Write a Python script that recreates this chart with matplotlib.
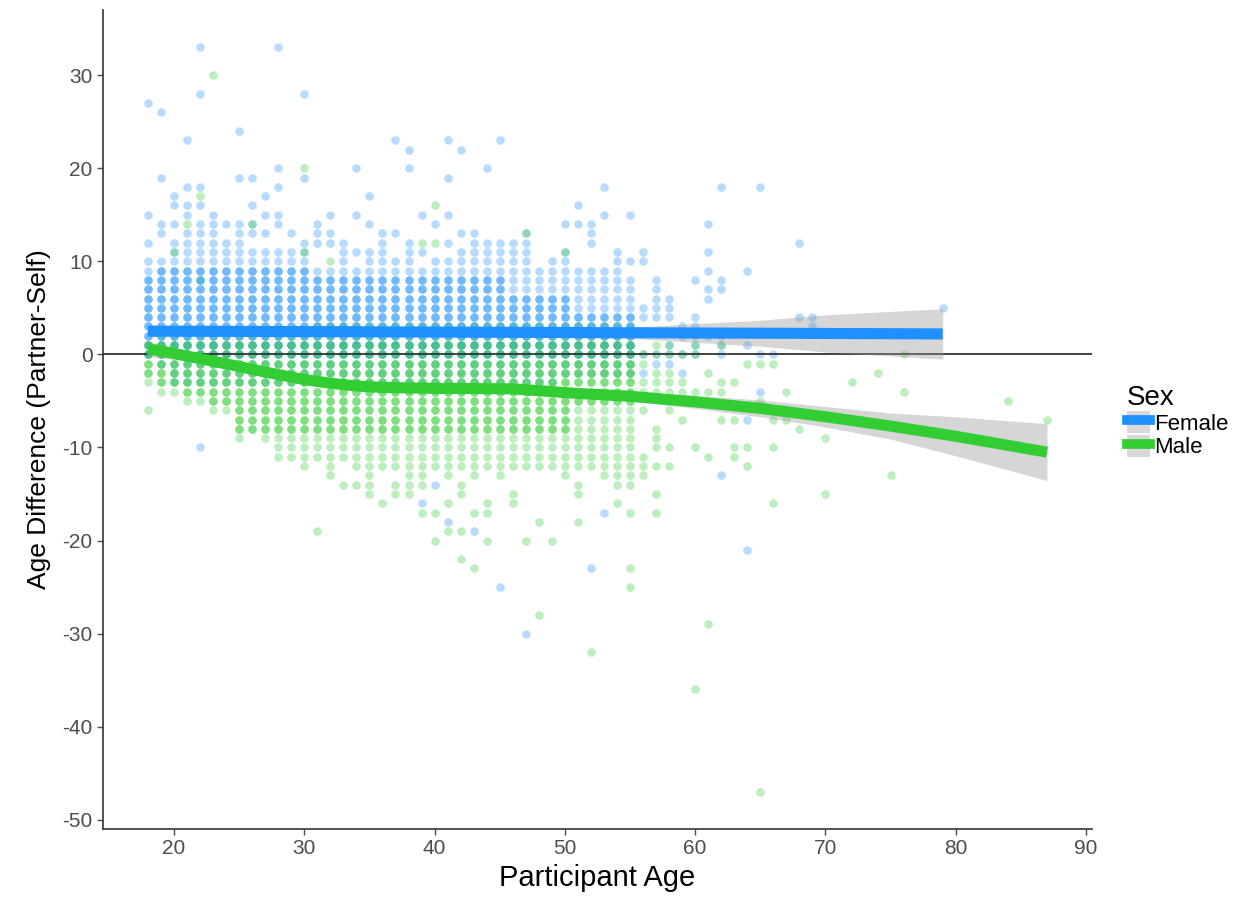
import matplotlib.pyplot as plt
import numpy as np
from matplotlib.lines import Line2D
from matplotlib.patches import Patch

# ---- data ----
# ages 18..55: contiguous column of points from bottom to top (integer age differences)
ages = list(range(18, 56))
female_top = [10, 10, 12, 13, 14, 15, 12, 14, 11, 11, 11, 11, 12, 9, 9, 12, 9, 11, 13, 10,
              12, 9, 10, 10, 11, 13, 12, 12, 12, 13, 9, 10, 11, 9, 9, 9, 11, 8]
female_bottom = [0, -1] + [-3] * 30 + [-2] * 6
male_top = [1] + [2] * 12 + [3] * 25
male_bottom = [-3, -4, -4, -5, -5, -6, -6, -9, -8, -9, -11, -11, -12, -11, -13, -11, -12, -15, -12, -12,
               -15, -14, -12, -13, -12, -13, -12, -13, -12, -12, -12, -12, -13, -12, -12, -13, -14, -14]
# darker (overlapping) part of each column
female_dense_top = [8] + [9] * 12 + [8] * 15 + [6] * 5 + [4] * 5
male_dense_bottom = [-2, -3, -3, -4, -4, -5, -5] + [-8] * 26 + [-5] * 5

# scattered single points
female_extra_age = [18, 18, 18, 19, 19, 19, 19, 20, 20, 20, 21, 21, 21, 21, 22, 22, 22, 22, 22,
                    24, 25, 25, 26, 26, 26, 26, 27, 27, 27, 28, 28, 28, 28, 28, 29, 30, 30,
                    31, 31, 31, 32, 32, 32, 34, 34, 34, 35, 35, 37, 37, 38, 38, 39, 39, 39,
                    40, 40, 41, 41, 41, 41, 41, 42, 42, 43, 44, 45, 45, 47, 50, 51, 51,
                    52, 52, 52, 52, 53, 53, 53, 55, 55,
                    56, 56, 56, 56, 56, 56, 57, 57, 57, 57, 57, 57, 57, 58, 58, 58, 58, 58, 58,
                    59, 59, 59, 59, 60, 60, 60, 60, 60, 60, 61, 61, 61, 61, 61, 61,
                    62, 62, 62, 62, 62, 62, 62, 64, 64, 64, 64, 65, 65, 65, 66, 68, 68, 69, 69, 79]
female_extra_diff = [12, 15, 27, 13, 14, 19, 26, 14, 16, 17, 15, 16, 18, 23, 16, 18, 28, 33, -10,
                     14, 19, 24, 13, 14, 16, 19, 13, 15, 17, 14, 15, 18, 20, 33, 13, 19, 28,
                     12, 13, 14, 12, 13, 15, 11, 15, 20, 14, 17, 13, 23, 20, 22, 11, 15, -16,
                     14, -14, 12, 15, 19, 23, -18, 13, 22, -19, 20, 23, -25, -30, 14, 14, 16,
                     12, 13, 14, -23, 15, 18, -17, 10, 15,
                     11, 10, 5, 4, 0, -2, 8, 7, 6, 5, 4, 0, -1, 6, 5, 4, 1, 0, -1,
                     3, 2, 0, -2, 8, 4, 3, 2, 1, 0, 14, 11, 9, 7, 6, 2,
                     18, 8, 7, 2, 1, 0, -13, 9, 1, -7, -21, 18, 0, -4, 0, 12, 4, 4, 3, 5]
male_extra_age = [18, 20, 21, 22, 22, 23, 26, 30, 30, 31, 32, 33, 34, 36, 37, 37, 39, 39,
                  40, 40, 40, 40, 41, 41, 42, 42, 42, 42, 43, 43, 44, 44, 44, 46, 46, 47, 47,
                  48, 48, 49, 50, 51, 51, 51, 52, 54, 55, 55, 55,
                  56, 56, 56, 56, 56, 56, 56, 56, 57, 57, 57, 57, 57, 57, 57, 57, 57, 57, 57,
                  58, 58, 58, 58, 58, 58, 58, 58, 59, 59, 59, 59, 60, 60, 60, 60, 60,
                  61, 61, 61, 61, 62, 62, 62, 62, 63, 63, 63, 63, 64, 64, 64, 65, 65, 65,
                  66, 66, 66, 66, 67, 67, 68, 70, 70, 72, 74, 75, 76, 76, 84, 87]
male_extra_diff = [-6, 11, 14, 17, 8, 30, 14, 20, 11, -19, 10, -14, -14, -16, -14, -15, 12, -17,
                   12, 16, -17, -20, -16, -19, -14, -15, -19, -22, -17, -23, -16, -17, -20, -15, -16, 13, -20,
                   -18, -28, -20, 11, -14, -15, -18, -32, -16, -17, -23, -25,
                   0, -1, -3, -4, -6, -11, -12, -13, 1, 0, -2, -3, -4, -8, -9, -10, -12, -15, -17,
                   1, 0, -2, -3, -4, -6, -10, -12, 0, -3, -4, -7, 1, 0, -4, -10, -36,
                   -2, -4, -11, -29, 1, -3, -4, -7, -3, -7, -10, -11, -1, -10, -12, -1, -5, -47,
                   -1, -7, -10, -16, -4, -7, -8, -9, -15, -3, -2, -13, 0, -4, -5, -7]

# smoothed fits (loess) and confidence half-widths
female_fit_age = [18, 30, 40, 50, 60, 70, 79]
female_fit = [2.5, 2.45, 2.4, 2.35, 2.3, 2.25, 2.2]
female_ci_age = [18, 25, 35, 45, 55, 60, 65, 70, 75, 79]
female_ci = [0.6, 0.4, 0.3, 0.35, 0.6, 1.0, 1.4, 2.0, 2.4, 2.7]
male_fit_age = [18, 20, 22, 25, 27, 30, 32, 34, 36, 40, 46, 51, 55, 60, 65, 70, 75, 80, 87]
male_fit = [0.6, 0.1, -0.45, -1.3, -1.9, -2.7, -3.1, -3.4, -3.55, -3.65, -3.7, -4.2, -4.5,
            -5.1, -5.8, -6.7, -7.7, -8.8, -10.5]
male_ci = [0.8, 0.65, 0.5, 0.4, 0.38, 0.35, 0.35, 0.35, 0.35, 0.35, 0.38, 0.42, 0.5,
           0.7, 0.9, 1.1, 1.4, 2.1, 3.05]

blue = '#1E90FF'
green = '#32CD32'


# ---- expand columns into points ----
def columns(bottoms, tops):
    xs, ys = [], []
    for a, lo, hi in zip(ages, bottoms, tops):
        for v in range(lo, hi + 1):
            xs.append(a)
            ys.append(v)
    return xs, ys


fx, fy = columns(female_bottom, female_top)
fdx, fdy = columns([0] * len(ages), female_dense_top)
mx, my = columns(male_bottom, male_top)
mdx, mdy = columns(male_dense_bottom, [1] * len(ages))

plt.rcParams['font.family'] = ['Liberation Sans', 'DejaVu Sans']
plt.rcParams['axes.unicode_minus'] = False
fig = plt.figure(figsize=(12.33, 8.98), dpi=100)
ax = fig.add_axes([0.0835, 0.0768, 0.8021, 0.9120])

s = 38
ax.scatter(fx + female_extra_age, fy + female_extra_diff, s=s, color=blue, alpha=0.32, lw=0)
ax.scatter(mx + male_extra_age, my + male_extra_diff, s=s, color=green, alpha=0.32, lw=0)
ax.scatter(fdx, fdy, s=s, color=blue, alpha=0.45, lw=0)
ax.scatter(mdx, mdy, s=s, color=green, alpha=0.45, lw=0)

ax.axhline(0, color='#333333', lw=1.3, zorder=3)

# ribbons and fitted lines
fc = np.interp(female_ci_age, female_fit_age, female_fit)
ax.fill_between(female_ci_age, fc - np.array(female_ci), fc + np.array(female_ci),
                color='#999999', alpha=0.4, lw=0, zorder=4)
ax.fill_between(male_fit_age, np.array(male_fit) - np.array(male_ci),
                np.array(male_fit) + np.array(male_ci), color='#999999', alpha=0.4, lw=0, zorder=4)
ax.plot(female_fit_age, female_fit, color=blue, lw=8, solid_capstyle='butt', zorder=5)
ax.plot(male_fit_age, male_fit, color=green, lw=8, solid_capstyle='butt',
        solid_joinstyle='round', zorder=5)

ax.set_xlim(14.55, 90.45)
ax.set_ylim(-51, 37)
ax.set_xticks(range(20, 91, 10))
ax.set_yticks(range(-50, 31, 10))
for side in ['top', 'right']:
    ax.spines[side].set_visible(False)
for side in ['left', 'bottom']:
    ax.spines[side].set_color('#333333')
    ax.spines[side].set_linewidth(1.2)
ax.tick_params(colors='#4D4D4D', labelsize=15, length=4, width=1)
ax.set_xlabel('Participant Age', fontsize=21, color='black', labelpad=4)
ax.set_ylabel('Age Difference (Partner-Self)', fontsize=19, color='black', labelpad=8)

handles = [(Patch(facecolor='#D9D9D9', edgecolor='none'), Line2D([], [], color=blue, lw=7)),
           (Patch(facecolor='#D9D9D9', edgecolor='none'), Line2D([], [], color=green, lw=7))]
leg = fig.legend(handles, ['Female', 'Male'], title='Sex', loc='upper left',
                 bbox_to_anchor=(1116 / 1233, 1 - 374 / 898), frameon=False,
                 fontsize=16, title_fontsize=20, handlelength=1.05, handleheight=1.15,
                 handletextpad=0.15, labelspacing=0.0, borderpad=0, alignment='left')

fig.savefig('out.png', dpi=100)
